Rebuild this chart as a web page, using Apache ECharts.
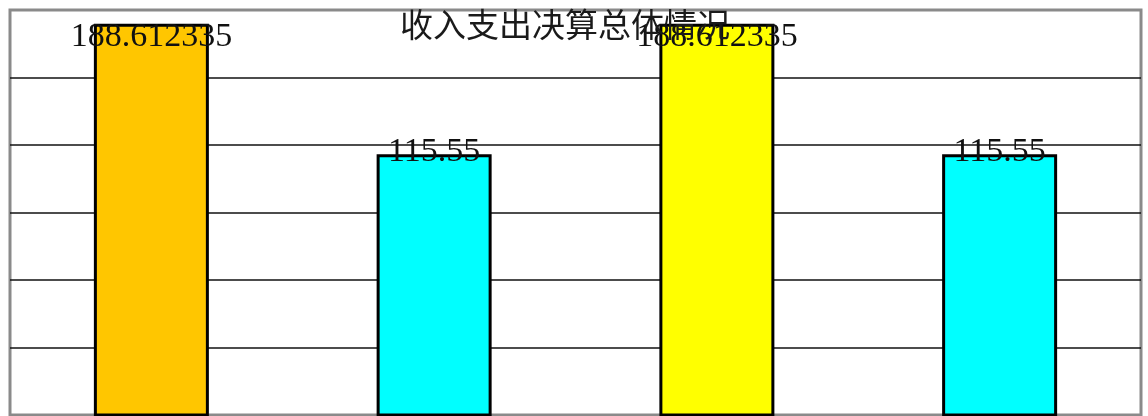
<!DOCTYPE html>
<html>
<head>
<meta charset="utf-8">
<script src="https://cdn.jsdelivr.net/npm/echarts@6/dist/echarts.min.js"></script>
<style>
  html, body { margin: 0; padding: 0; background: #fff; }
  #chart { width: 1148px; height: 416px; }
</style>
</head>
<body>
<div id="chart"></div>
<script>
const titleText = '收入支出决算总体情况';
const categories = ['收入', '支出', '收入决算', '支出决算'];
const values = [188.612335, 115.55, 188.612335, 115.55];
const barColors = ['#FFC600', '#00FFFF', '#FFFF00', '#00FFFF'];
const gridTicks = [0, 1, 2, 3, 4, 5, 6];

const labelOffsetY = [-3.5, -19.5, -3.5, -19.5];

const chart = echarts.init(document.getElementById('chart'), null, { renderer: 'canvas' });
chart.setOption({
  backgroundColor: '#ffffff',
  animation: false,
  title: {
    text: titleText,
    left: 395,
    top: 3,
    textStyle: { fontFamily: 'Noto Sans CJK SC', fontSize: 33, fontWeight: 'normal', color: '#1a1a1a' }
  },
  grid: {
    left: 10, right: 7, top: 10, bottom: 1,
    show: true,
    borderColor: '#8a8a8a',
    borderWidth: 3,
    backgroundColor: 'transparent'
  },
  xAxis: {
    type: 'category',
    data: categories,
    boundaryGap: true,
    axisLine: { show: false },
    axisTick: { show: false },
    axisLabel: { show: false },
    splitLine: { show: false }
  },
  yAxis: [
    {
      type: 'log',
      min: 43.47,
      max: 198.5,
      axisLine: { show: false },
      axisTick: { show: false },
      axisLabel: { show: false },
      splitLine: { show: false }
    },
    {
      type: 'value',
      min: gridTicks[0],
      max: gridTicks[gridTicks.length - 1],
      interval: 1,
      axisLine: { show: false },
      axisTick: { show: false },
      axisLabel: { show: false },
      splitLine: {
        show: true,
        showMinLine: false,
        showMaxLine: false,
        lineStyle: { color: '#111', width: 1.5 }
      }
    }
  ],
  series: [{
    type: 'bar',
    yAxisIndex: 0,
    barWidth: 115,
    clip: true,
    data: values.map((v, i) => ({
      value: v,
      itemStyle: { color: barColors[i], borderColor: '#000', borderWidth: 3 },
      label: { offset: [0, labelOffsetY[i]] }
    })),
    label: {
      show: true,
      position: 'insideTop',
      distance: 0,
      formatter: p => String(p.value),
      fontFamily: 'Liberation Serif',
      fontSize: 34,
      lineHeight: 34,
      color: '#111'
    }
  }]
});
</script>
</body>
</html>
